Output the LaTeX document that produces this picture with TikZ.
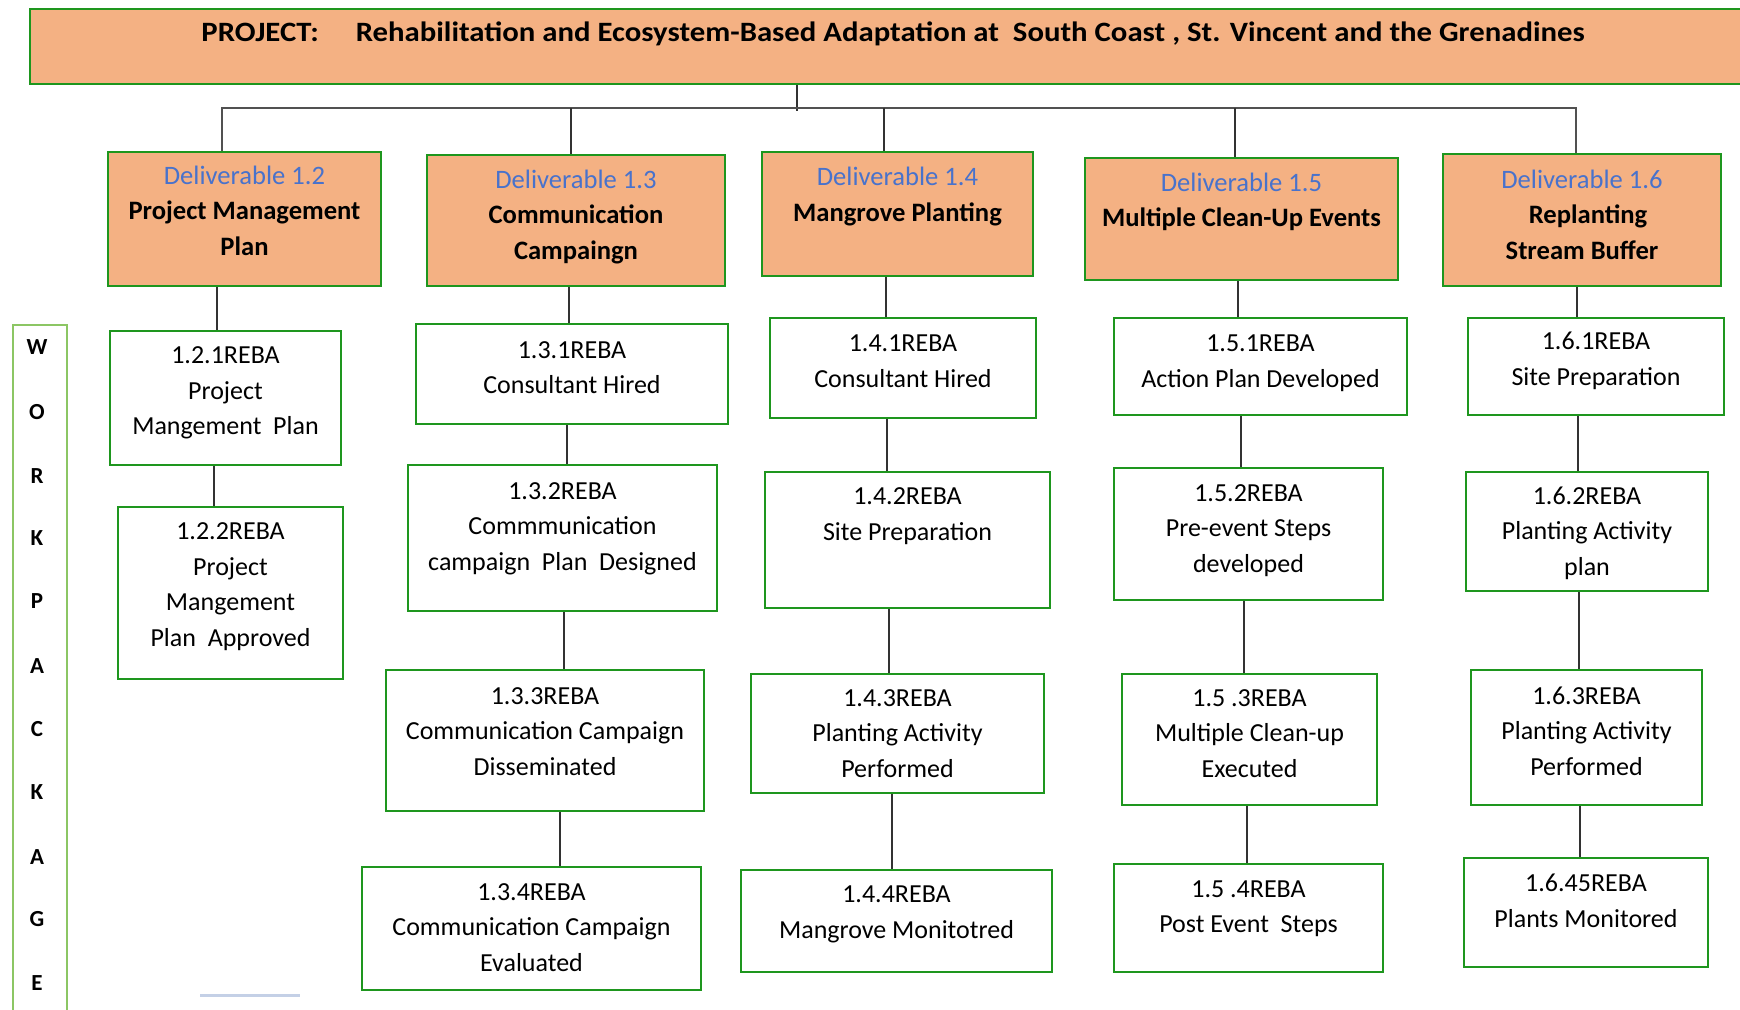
\documentclass[tikz,border=0pt]{standalone}
\usepackage{fontspec}
\setmainfont{Carlito}
\usetikzlibrary{fit}

\definecolor{boxfill}{RGB}{244,177,131}
\definecolor{boxline}{RGB}{30,150,30}
\definecolor{wpline}{RGB}{140,198,100}
\definecolor{delblue}{RGB}{72,114,204}
\definecolor{wirecol}{RGB}{50,50,50}
\definecolor{faint}{RGB}{196,208,230}

\tikzset{
  orangebox/.style={draw=boxline, line width=1.3pt, fill=boxfill, inner sep=0pt},
  itembox/.style={draw=boxline, line width=1.3pt, fill=white, inner sep=0pt},
  wpbox/.style={draw=wpline, line width=1.2pt, inner sep=0pt},
  txt/.style={align=center, inner sep=0pt, yshift=-2.75pt, font=\fontsize{13}{17.75}\selectfont,
    execute at begin node=\strut, execute at end node=\strut},
  deltxt/.style={txt, font=\fontsize{13.3}{17.75}\selectfont\bfseries},
  wpletter/.style={inner sep=0pt, font=\fontsize{11.5}{12}\selectfont\bfseries},
  wire/.style={draw=wirecol, line width=1pt},
  bus/.style={draw=wirecol!85, line width=1.4pt},
}

% work item box: name, x1, y1, x2, y2, text y, text
\newcommand\itemnode[7]{%
  \node[itembox, fit={(#2,#3) (#4,#5)}] (#1) {};
  \node[txt] (#1-t) at ({(#2+#4)/2},#6) {#7};
}
% deliverable box: name, x1, y1, x2, y2, text y, text
\newcommand\delnode[7]{%
  \node[orangebox, fit={(#2,#3) (#4,#5)}] (#1) {};
  \node[deltxt] (#1-t) at ({(#2+#4)/2},#6) {#7};
}
% vertical link from one box to the next at a given x
\newcommand\link[3]{\draw[wire] (#1.south -| #3,0) -- (#2.north -| #3,0);}

\begin{document}
\begin{tikzpicture}[x=0.5pt, y=-0.5pt]
\useasboundingbox (0,0) rectangle (1740,1010);

% project header
\node[orangebox, fit={(30,9) (1752,84)}] (top) {};
\node[deltxt, anchor=west, font=\fontsize{14}{17.75}\selectfont\bfseries] (top-t) at (201,28.7)
  {\resizebox{691.5pt}{\height}{PROJECT:\hspace{1.2em}Rehabilitation and Ecosystem-Based Adaptation at\ \ South Coast , St. Vincent and the Grenadines}};

% deliverables
\delnode{D12}{108}{152}{381}{286}{210.5}{\textcolor{delblue}{\mdseries Deliverable 1.2}\\Project Management\\Plan}
\delnode{D13}{427}{155}{725}{286}{214.5}{\textcolor{delblue}{\mdseries Deliverable 1.3}\\Communication\\Campaingn}
\delnode{D14}{762}{152}{1033}{276}{194}{\textcolor{delblue}{\mdseries Deliverable 1.4}\\Mangrove Planting}
\delnode{D15}{1085}{158}{1398}{280}{199.5}{\textcolor{delblue}{\mdseries Deliverable 1.5}\\Multiple Clean-Up Events}
\delnode{D16}{1443}{154}{1721}{286}{214.5}{\textcolor{delblue}{\mdseries Deliverable 1.6}\\\hspace*{6pt}Replanting\\Stream Buffer}

% bus from header to deliverables
\coordinate (hub) at (797,108);
\coordinate (v12) at (222,108);
\coordinate (v13) at (571,108);
\coordinate (v14) at (884,108);
\coordinate (v15) at (1235,108);
\coordinate (v16) at (1576,108);
\draw[wire] (top.south -| hub) -- ([yshift=-1.5pt]hub);
\draw[bus] (v12 |- D12.north) -- (v12) -- (v16) -- (v16 |- D16.north);
\draw[wire] (v13) -- (v13 |- D13.north);
\draw[wire] (v14) -- (v14 |- D14.north);
\draw[wire] (v15) -- (v15 |- D15.north);

% work package side label
\node[wpbox, fit={(13,325) (67,1022)}] (wp) {};
\foreach \l/\yy [count=\i] in {W/347,O/412,R/476,K/538,P/601,A/666,C/729,K/792,A/857,G/919,E/983}
  \node[wpletter] (wp\i) at (37,\yy) {\l};

% column 1.2
\itemnode{b121}{110}{331}{341}{465}{390.5}{1.2.1REBA\\Project\\Mangement~ Plan}
\itemnode{b122}{118}{507}{343}{679}{584.5}{1.2.2REBA\\Project\\Mangement\\Plan~ Approved}
\link{D12}{b121}{217}
\link{b121}{b122}{214}

% column 1.3
\itemnode{b131}{416}{324}{728}{424}{367.5}{1.3.1REBA\\Consultant Hired}
\itemnode{b132}{408}{465}{717}{611}{526}{1.3.2REBA\\Commmunication\\campaign~ Plan~ Designed}
\itemnode{b133}{386}{670}{704}{811}{731}{1.3.3REBA\\Communication Campaign\\Disseminated}
\itemnode{b134}{362}{867}{701}{990}{927}{1.3.4REBA\\Communication Campaign\\Evaluated}
\link{D13}{b131}{569}
\link{b131}{b132}{567}
\link{b132}{b133}{564}
\link{b133}{b134}{560}

% column 1.4
\itemnode{b141}{770}{318}{1036}{418}{361}{1.4.1REBA\\Consultant Hired}
\itemnode{b142}{765}{472}{1050}{608}{514}{1.4.2REBA\\Site Preparation}
\itemnode{b143}{751}{674}{1044}{793}{733}{1.4.3REBA\\Planting Activity\\Performed}
\itemnode{b144}{741}{870}{1052}{972}{912}{1.4.4REBA\\Mangrove Monitotred}
\link{D14}{b141}{886}
\link{b141}{b142}{887}
\link{b142}{b143}{889}
\link{b143}{b144}{892}

% column 1.5
\itemnode{b151}{1114}{318}{1407}{415}{361}{1.5.1REBA\\Action Plan Developed}
\itemnode{b152}{1114}{468}{1383}{600}{528}{1.5.2REBA\\Pre-event Steps\\developed}
\itemnode{b153}{1122}{674}{1377}{805}{733}{1.5 .3REBA\\Multiple Clean-up\\Executed}
\itemnode{b154}{1114}{864}{1383}{972}{906.5}{1.5 .4REBA\\Post Event~ Steps}
\link{D15}{b151}{1238}
\link{b151}{b152}{1241}
\link{b152}{b153}{1244}
\link{b153}{b154}{1247}

% column 1.6
\itemnode{b161}{1468}{318}{1724}{415}{358.5}{1.6.1REBA\\Site Preparation}
\itemnode{b162}{1466}{472}{1708}{591}{531}{1.6.2REBA\\Planting Activity\\plan}
\itemnode{b163}{1471}{670}{1702}{805}{731}{1.6.3REBA\\Planting Activity\\Performed}
\itemnode{b164}{1464}{858}{1708}{967}{900.5}{1.6.45REBA\\Plants Monitored}
\link{D16}{b161}{1577}
\link{b161}{b162}{1578}
\link{b162}{b163}{1579}
\link{b163}{b164}{1580}

% short pale rule near the bottom
\coordinate (ruleL) at (200,995);
\coordinate (ruleR) at (300,995);
\draw[faint, line width=1.5pt] (ruleL) -- (ruleR);
\end{tikzpicture}
\end{document}
